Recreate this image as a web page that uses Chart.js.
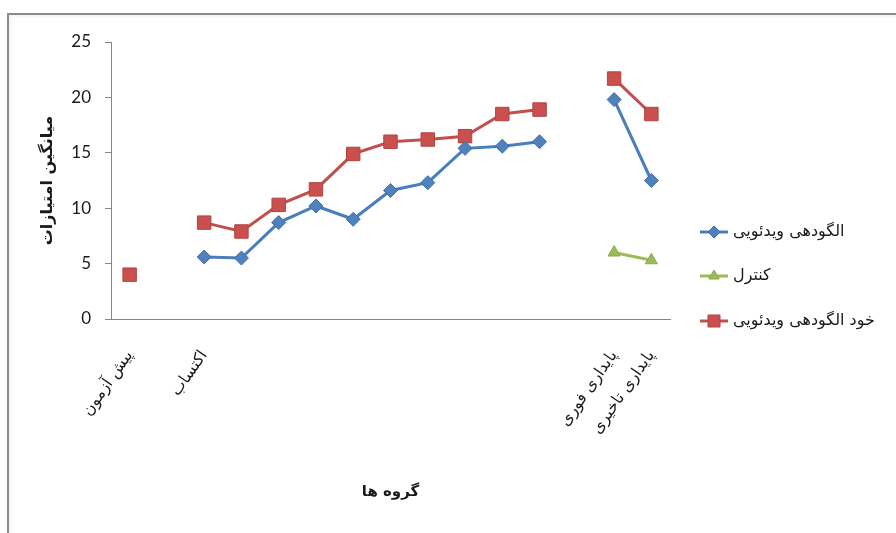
<!DOCTYPE html>
<html>
<head>
<meta charset="utf-8">
<script src="https://cdn.jsdelivr.net/npm/chart.js@4.4.1/dist/chart.umd.min.js"></script>
<style>
  html, body { margin: 0; padding: 0; background: #fff; width: 896px; height: 533px; overflow: hidden; }
  #frame { position: absolute; left: 7px; top: 13px; width: 900px; height: 540px;
           border-top: 2px solid #8c8c8c; border-left: 2px solid #8c8c8c;
           box-shadow: inset 2px 2px 3px rgba(0,0,0,0.06); }
  #c { position: absolute; left: 10px; top: 16px; }
</style>
</head>
<body>
<div id="frame"></div>
<canvas id="c" width="886" height="517"></canvas>
<script>
// Session groups along the x axis (unlabelled slots are acquisition sessions / spacers)
const categories = ['پیش آزمون', '', 'اکتساب', '', '', '', '', '', '', '', '', '', '', 'پایداری فوری', 'پایداری تاخیری'];

// Mean scores per group
const videoModeling     = [null, null, 5.6, 5.5, 8.7, 10.2, 9.0, 11.6, 12.3, 15.4, 15.6, 16.0, null, 19.8, 12.5];
const controlGroup      = [null, null, null, null, null, null, null, null, null, null, null, null, null, 6.0, 5.3];
const selfVideoModeling = [4.0, null, 8.7, 7.9, 10.3, 11.7, 14.9, 16.0, 16.2, 16.5, 18.5, 18.9, null, 21.7, 18.5];

const seriesNames = ['الگودهی ویدئویی', 'کنترل', 'خود الگودهی ویدئویی'];
const yTicks = [0, 5, 10, 15, 20, 25];

const yTitle = 'میانگین امتیازات';
const xTitle = 'گروه ها';

const PERSIAN = '"DejaVu Sans", sans-serif';

// Legend drawn at the right of the plot: line segment + marker, then the label
const legendRows = [216, 260, 305];
const sideLegend = {
  id: 'sideLegend',
  afterDraw(chart) {
    const ctx = chart.ctx;
    const x0 = chart.chartArea.right + 30;
    chart.data.datasets.forEach((ds, i) => {
      const y = legendRows[i];
      ctx.save();
      ctx.strokeStyle = ds.borderColor;
      ctx.lineWidth = 3;
      ctx.beginPath();
      ctx.moveTo(x0, y);
      ctx.lineTo(x0 + 28, y);
      ctx.stroke();
      ctx.fillStyle = ds.pointBackgroundColor;
      ctx.strokeStyle = ds.pointBorderColor;
      ctx.lineWidth = 1;
      Chart.helpers.drawPoint(ctx, { pointStyle: ds.pointStyle, radius: ds.pointRadius - 1, borderWidth: 1, rotation: 0 }, x0 + 14, y);
      ctx.fillStyle = '#1a1a1a';
      ctx.font = '16px ' + PERSIAN;
      ctx.textAlign = 'left';
      ctx.textBaseline = 'middle';
      ctx.fillText(ds.label, x0 + 33, y);
      ctx.restore();
    });
  }
};

new Chart(document.getElementById('c'), {
  type: 'line',
  data: {
    labels: categories,
    datasets: [
      {
        label: seriesNames[0], data: videoModeling,
        borderColor: '#4a7ebb', borderWidth: 3,
        pointStyle: 'rectRot', pointRadius: 7,
        pointBackgroundColor: '#4f81bd', pointBorderColor: '#3f6ea8', pointBorderWidth: 1,
        spanGaps: false, tension: 0
      },
      {
        label: seriesNames[1], data: controlGroup,
        borderColor: '#9bbb59', borderWidth: 3,
        pointStyle: 'triangle', pointRadius: 7,
        pointBackgroundColor: '#9bbb59', pointBorderColor: '#8aa84c', pointBorderWidth: 1,
        spanGaps: false, tension: 0
      },
      {
        label: seriesNames[2], data: selfVideoModeling,
        borderColor: '#c0504d', borderWidth: 3,
        pointStyle: 'rect', pointRadius: 9.5,
        pointBackgroundColor: '#c9504e', pointBorderColor: '#b04441', pointBorderWidth: 1,
        spanGaps: false, tension: 0
      }
    ]
  },
  options: {
    responsive: false,
    animation: false,
    devicePixelRatio: 1,
    layout: { padding: { left: 24, right: 226, top: 26, bottom: 0 } },
    plugins: {
      legend: { display: false },
      tooltip: { enabled: false }
    },
    scales: {
      x: {
        type: 'category',
        offset: true,
        grid: { display: false },
        border: { display: true, color: '#868686', width: 1 },
        ticks: {
          autoSkip: false,
          minRotation: 55, maxRotation: 55,
          padding: 20,
          color: '#1a1a1a',
          font: { family: PERSIAN, size: 16 }
        },
        title: {
          display: true, text: xTitle, color: '#1a1a1a',
          font: { family: PERSIAN, size: 15, weight: 'bold' },
          padding: { top: 4, bottom: 32 }
        },
        afterFit(scale) { scale.height = 214; }
      },
      y: {
        min: yTicks[0], max: yTicks[yTicks.length - 1],
        grid: { drawOnChartArea: false, drawTicks: true, tickLength: 6, tickColor: '#868686' },
        border: { display: true, color: '#868686', width: 1 },
        ticks: {
          stepSize: yTicks[1] - yTicks[0],
          padding: 14,
          color: '#1a1a1a',
          font: { family: 'Lato, sans-serif', size: 17 }
        },
        title: {
          display: true, text: yTitle, color: '#1a1a1a',
          font: { family: PERSIAN, size: 16, weight: 'bold' },
          padding: { top: 4, bottom: 4 }
        },
        afterFit(scale) { scale.width = 77; }
      }
    }
  },
  plugins: [sideLegend]
});
</script>
</body>
</html>
